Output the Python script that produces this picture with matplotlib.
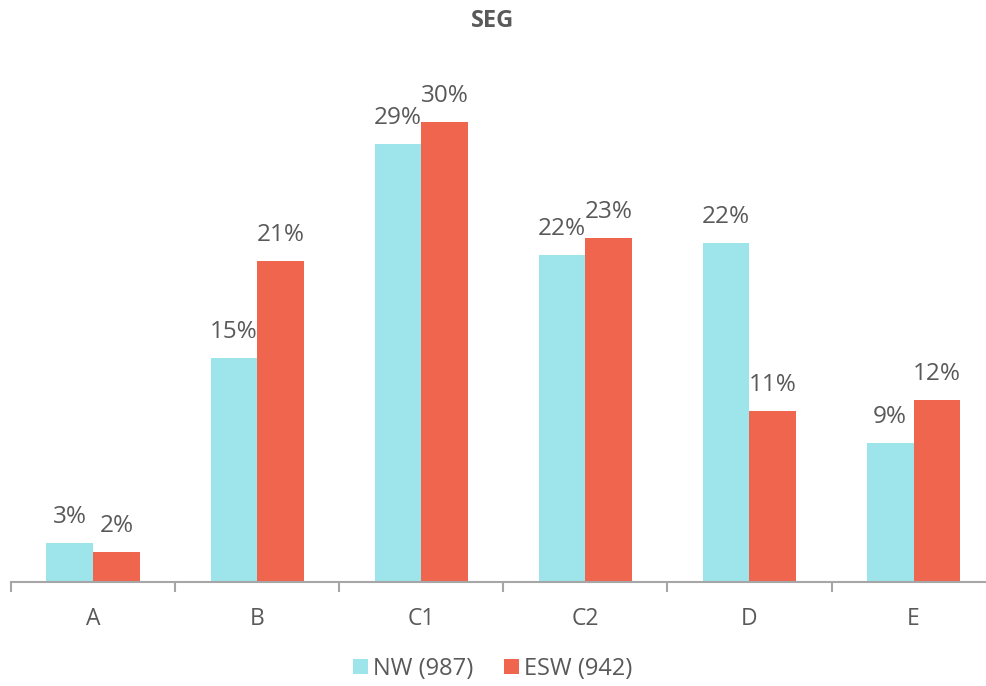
import numpy as np
import matplotlib.pyplot as plt

categories = ["A", "B", "C1", "C2", "D", "E"]
nw = [2.6, 14.8, 28.9, 21.6, 22.4, 9.2]
esw = [2.0, 21.2, 30.4, 22.7, 11.3, 12.0]
series_names = ["NW (987)", "ESW (942)"]

c_nw = "#9de4eb"
c_esw = "#f0654e"
grey = "#595959"

plt.rcParams["font.family"] = ["Open Sans", "DejaVu Sans"]

fig = plt.figure(figsize=(9.86, 6.86), dpi=100)
W, H = 986, 686
# axes spans a bit past the right edge, like the original export
x0, x1 = 11, 995.6
ybase, ytop = 582, 52
ax = fig.add_axes([x0 / W, (H - ybase) / H, (x1 - x0) / W, (ybase - ytop) / H])

x = np.arange(len(categories))
bw = 0.284
b1 = ax.bar(x - bw / 2, nw, bw, color=c_nw, label=series_names[0])
b2 = ax.bar(x + bw / 2, esw, bw, color=c_esw, label=series_names[1])

for bars, vals in ((b1, nw), (b2, esw)):
    for r, v in zip(bars, vals):
        ax.annotate(f"{v:.0f}%", (r.get_x() + r.get_width() / 2, v),
                    xytext=(0, 10), textcoords="offset points",
                    ha="center", va="bottom", fontsize=17.5, color=grey)

ax.set_xlim(-0.5, len(categories) - 0.5)
ax.set_ylim(0, 35)

ax.set_xticks(np.arange(len(categories) + 1) - 0.5)
ax.set_xticklabels([])
ax.tick_params(axis="x", which="major", length=7, width=1.5, color="#a6a6a6")
ax.set_xticks(x, minor=True)
ax.set_xticklabels(categories, minor=True)
ax.tick_params(axis="x", which="minor", length=0, pad=18, labelsize=16.5, labelcolor=grey)
ax.set_yticks([])

for s in ("top", "right", "left"):
    ax.spines[s].set_visible(False)
ax.spines["bottom"].set_color("#a6a6a6")
ax.spines["bottom"].set_linewidth(1.5)

fig.text(0.5, 1 - 21 / H, "SEG", ha="center", va="center",
         fontsize=17, fontweight="bold", color=grey)

fig.legend(loc="center", bbox_to_anchor=(0.5, 1 - 669 / H), ncol=2, frameon=False,
           fontsize=17, labelcolor=grey, handlelength=0.6, handleheight=0.6,
           handletextpad=0.25, columnspacing=1.3)

fig.savefig("out.png", dpi=100)
